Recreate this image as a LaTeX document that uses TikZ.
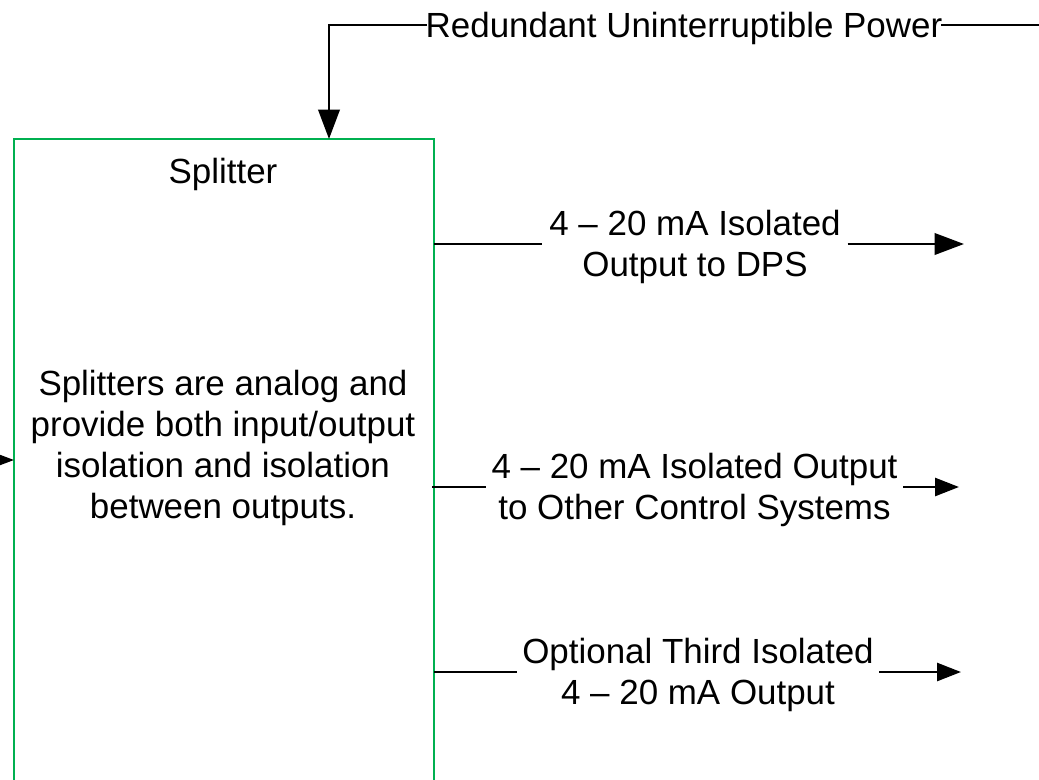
\documentclass[tikz,border=0pt]{standalone}
\usepackage{fontspec}
\setmainfont{Liberation Sans}
\usetikzlibrary{arrows.meta}
\definecolor{boxgreen}{HTML}{00B050}
\tikzset{
  wire/.style={line width=2pt, draw=black},
  bigtip/.style={-{Triangle[length=22pt,width=16pt]}},
  smalltip/.style={-{Triangle[length=18pt,width=13.5pt]}},
  label/.style={font=\fontsize{26.2pt}{30.75pt}\selectfont, align=center, inner sep=0pt, text=black},
  blockbox/.style={draw=boxgreen, line width=1.9pt, minimum width=315pt, minimum height=517.5pt, inner sep=0pt}
}
\begin{document}
\begin{tikzpicture}[x=0.75pt, y=-0.75pt]
  \useasboundingbox (0,0) rectangle (1039,779);
  \fill[white] (0,0) rectangle (1039,779);
  \clip (0,0) rectangle (1039,779);

  % splitter block (runs past the lower edge)
  \node[blockbox] (splitter) at (224,484) {};
  \node[label] (title) at (223,174) {Splitter};
  \node[label] (desc) at (223,448) {Splitters are analog and\\provide both input/output\\isolation and isolation\\between outputs.};

  % redundant power feed
  \node[label, inner xsep=2pt] (pwr) at (684,28) {Redundant Uninterruptible Power};
  \coordinate (pwrL) at (427,25);
  \coordinate (pwrR) at (941,25);
  \coordinate (pwrEnd) at (1045,25);
  \coordinate (pwrIn) at (329,139);
  \draw[wire] (pwrR) -- (pwrEnd);
  \draw[wire, bigtip] (pwrL) -| (pwrIn);

  % analog input from the left
  \coordinate (inStart) at (-20,460);
  \coordinate (inEnd) at (14,460);
  \draw[wire, bigtip] (inStart) -- (inEnd);

  % isolated outputs
  \node[label, inner xsep=5pt] (out1) at (695,247) {4 -- 20 mA Isolated\\Output to DPS};
  \coordinate (s1) at (434,244);
  \coordinate (t1) at (964,244);
  \draw[wire] (s1) -- (s1 -| out1.west);
  \draw[wire, bigtip] (t1 -| out1.east) -- (t1);

  \node[label, inner xsep=4pt] (out2) at (694.5,490) {4 -- 20 mA Isolated Output\\to Other Control Systems};
  \coordinate (s2) at (432,487);
  \coordinate (t2) at (959,487);
  \draw[wire] (s2) -- (s2 -| out2.west);
  \draw[wire, smalltip] (t2 -| out2.east) -- (t2);

  \node[label, inner xsep=4pt] (out3) at (698,675) {Optional Third Isolated\\4 -- 20 mA Output};
  \coordinate (s3) at (434,672);
  \coordinate (t3) at (961,672);
  \draw[wire] (s3) -- (s3 -| out3.west);
  \draw[wire, smalltip] (t3 -| out3.east) -- (t3);
\end{tikzpicture}
\end{document}
